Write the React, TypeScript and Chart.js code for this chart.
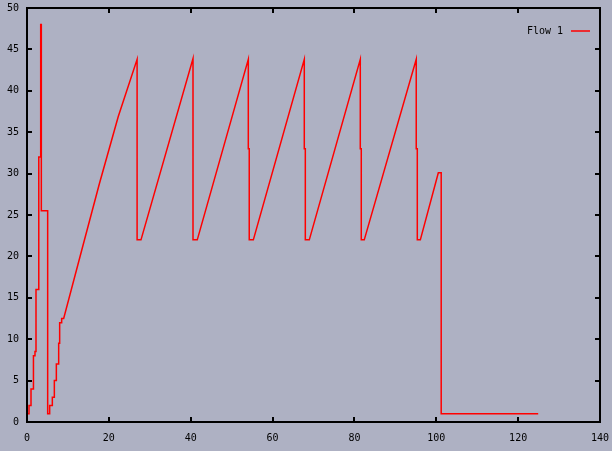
import { useEffect, useRef } from "react";
import { Chart, registerables } from "chart.js";

Chart.register(...registerables);

const seriesLabel = "Flow 1";

// time (s) and congestion window, listed as corner points of the trace
const times = [
  0, 0.49, 0.49, 0.98, 0.98, 1.47, 1.47, 1.63, 1.63, 1.95, 1.95, 2.2, 2.2, 2.77, 2.77, 2.93, 2.93, 3.2, 3.2, 3.42,
  3.42, 3.5, 3.5, 5.05, 5.05, 5.54, 5.54, 6.19, 6.19, 6.68, 6.68, 7.17, 7.17, 7.74, 7.74, 7.98, 7.98, 8.47, 8.47, 8.96,
  13.4, 17.7, 22.3, 26.9,
  26.9, 27.85, 40.56,
  40.56, 41.6, 54.07,
  54.07, 54.3, 54.3, 55.3, 67.75,
  67.75, 68.0, 68.0, 68.97, 81.43,
  81.43, 81.67, 81.67, 82.4, 95.1,
  95.1, 95.36, 95.36, 96.1, 100.5, 101.2,
  101.2, 124.9,
];
const cwnd = [
  1, 1, 2, 2, 4, 4, 5.5, 5.5, 8, 8, 8.5, 8.5, 16, 16, 30, 30, 32, 32, 45, 45,
  48, 48, 25.5, 25.5, 1, 1, 2, 2, 3, 3, 5, 5, 7, 7, 9.5, 9.5, 12, 12, 12.5, 12.5,
  20.8, 28.8, 36.9, 43.8,
  22, 22, 43.9,
  22, 22, 43.8,
  33, 33, 22, 22, 43.8,
  33, 33, 22, 22, 43.8,
  33, 33, 22, 22, 43.8,
  33, 33, 22, 22, 30.1, 30.1,
  1, 1,
];

const xTicks = [0, 20, 40, 60, 80, 100, 120, 140];
const yTicks = [0, 5, 10, 15, 20, 25, 30, 35, 40, 45, 50];

const BG = "#aeb1c3";
const LINE = "#ff0000";
const FONT = "'DejaVu Sans Mono', monospace";

const gnuplotFrame = {
  id: "gnuplotFrame",
  beforeDraw(chart: any) {
    const { ctx, width, height } = chart;
    ctx.save();
    ctx.fillStyle = BG;
    ctx.fillRect(0, 0, width, height);
    ctx.restore();
  },
  afterDraw(chart: any) {
    const { ctx, chartArea } = chart;
    const { left, right, top, bottom } = chartArea;
    const xs = chart.scales.x;
    const ys = chart.scales.y;
    ctx.save();
    ctx.strokeStyle = "#000";
    ctx.lineWidth = 2;
    ctx.strokeRect(left, top, right - left, bottom - top);
    ctx.beginPath();
    const tl = 5;
    xTicks.forEach((v) => {
      const px = Math.round(xs.getPixelForValue(v));
      ctx.moveTo(px, bottom);
      ctx.lineTo(px, bottom - tl);
      ctx.moveTo(px, top);
      ctx.lineTo(px, top + tl);
    });
    yTicks.forEach((v) => {
      const py = Math.round(ys.getPixelForValue(v));
      ctx.moveTo(left, py);
      ctx.lineTo(left + tl, py);
      ctx.moveTo(right, py);
      ctx.lineTo(right - tl, py);
    });
    ctx.stroke();

    // legend (gnuplot style: text then line sample)
    const ds = chart.data.datasets[0];
    const ly = top + 23;
    ctx.fillStyle = "#000";
    ctx.font = `10px ${FONT}`;
    ctx.textAlign = "right";
    ctx.textBaseline = "middle";
    ctx.fillText(ds.label, right - 37, ly);
    ctx.beginPath();
    ctx.strokeStyle = ds.borderColor;
    ctx.lineWidth = 1.5;
    ctx.moveTo(right - 29, ly);
    ctx.lineTo(right - 10, ly);
    ctx.stroke();
    ctx.restore();
  },
};

export default function App() {
  const ref = useRef<HTMLCanvasElement | null>(null);

  useEffect(() => {
    if (!ref.current) return;
    const chart = new Chart(ref.current, {
      type: "line",
      data: {
        datasets: [
          {
            label: seriesLabel,
            data: times.map((t, i) => ({ x: t, y: cwnd[i] })),
            borderColor: LINE,
            backgroundColor: LINE,
            borderWidth: 1.5,
            pointRadius: 0,
            tension: 0,
            fill: false,
          },
        ],
      },
      options: {
        animation: false,
        responsive: false,
        events: [],
        layout: { padding: { top: 8, right: 12, left: 0, bottom: 0 } },
        plugins: {
          legend: { display: false },
          tooltip: { enabled: false },
          title: { display: false },
        },
        scales: {
          x: {
            type: "linear",
            min: 0,
            max: 140,
            grid: { display: false, drawTicks: false },
            border: { display: false },
            ticks: {
              color: "#000",
              font: { family: FONT, size: 10 },
              padding: 10,
              maxRotation: 0,
            },
            afterBuildTicks: (scale: any) => {
              scale.ticks = xTicks.map((v) => ({ value: v }));
            },
            afterFit: (scale: any) => {
              scale.height = 29;
              scale.paddingLeft = 0;
              scale.paddingRight = 0;
            },
          },
          y: {
            type: "linear",
            min: 0,
            max: 50,
            grid: { display: false, drawTicks: false },
            border: { display: false },
            ticks: {
              color: "#000",
              font: { family: FONT, size: 10 },
              padding: 8,
            },
            afterBuildTicks: (scale: any) => {
              scale.ticks = yTicks.map((v) => ({ value: v }));
            },
            afterFit: (scale: any) => {
              scale.width = 27;
              scale.paddingTop = 0;
              scale.paddingBottom = 0;
            },
          },
        },
      },
      plugins: [gnuplotFrame],
    });
    return () => chart.destroy();
  }, []);

  return (
    <div style={{ position: "absolute", left: 0, top: 0, width: 612, height: 451 }}>
      <canvas ref={ref} width={612} height={451} style={{ display: "block" }} />
    </div>
  );
}
